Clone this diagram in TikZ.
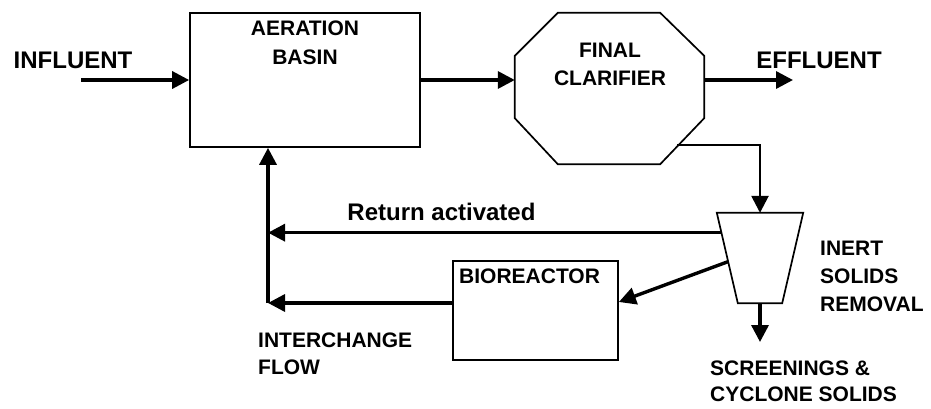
\documentclass[tikz,border=0pt]{standalone}
\usepackage{fontspec}
\setmainfont{Liberation Sans}
\usetikzlibrary{arrows.meta,calc}

\begin{document}
\begin{tikzpicture}[x=1pt,y=-1pt,
    flow/.style={line width=3.4pt,-{Triangle[length=17pt,width=17pt]}},
    unit/.style={draw,line width=1.7pt,inner sep=0pt},
    lbl/.style={font=\bfseries\fontsize{24}{28}\selectfont,inner sep=0pt},
    tag/.style={font=\bfseries\fontsize{21}{28}\selectfont,inner sep=0pt,align=left,anchor=west}]
    \useasboundingbox (0,0) rectangle (931,409);
    % process units
    \node[unit,minimum width=230pt,minimum height=134pt] (basin) at (305,80) {};
    \node[minimum width=189pt,minimum height=151pt,inner sep=0pt] (clar) at (609.5,88.5) {};
    \draw[line width=1.7pt] ([xshift=43pt]clar.north west) -- ([xshift=-44pt]clar.north east)
        -- ([yshift=-43pt]clar.north east) -- ([yshift=46pt]clar.south east)
        -- ([xshift=-44pt]clar.south east) -- ([xshift=43pt]clar.south west)
        -- ([yshift=46pt]clar.south west) -- ([yshift=-43pt]clar.north west) -- cycle;
    \node[minimum width=86pt,minimum height=90pt,inner sep=0pt] (sep) at (760,258) {};
    \draw[line width=1.7pt] (sep.north west) -- (sep.north east)
        -- ([xshift=-21pt]sep.south east) -- ([xshift=21pt]sep.south west) -- cycle;
    \node[unit,minimum width=165pt,minimum height=99pt] (bio) at (535.5,310.5) {};
    % labels
    \node[tag,anchor=center,align=center,font=\bfseries\fontsize{21}{29}\selectfont] (basinlbl) at (305,42.5) {AERATION\\BASIN};
    \node[tag,anchor=center,align=center] (clarlbl) at (610,64) {FINAL\\CLARIFIER};
    \node[tag] (biolbl) at (459,276) {BIOREACTOR};
    \node[lbl] (inlbl) at (73,60) {INFLUENT};
    \node[lbl] (efflbl) at (819,60) {EFFLUENT};
    \node[lbl] (retlbl) at (441.5,212) {Return activated};
    \node[tag] (seplbl) at (820,276.5) {INERT\\SOLIDS\\REMOVAL};
    \node[tag,font=\bfseries\fontsize{21}{25.7}\selectfont] (scrlbl) at (710,381) {SCREENINGS \&\\CYCLONE SOLIDS};
    \node[tag,font=\bfseries\fontsize{21}{27.5}\selectfont] (intlbl) at (258,354) {INTERCHANGE\\FLOW};
    % flows
    \coordinate (infl) at (81,80);
    \coordinate (eff) at (793,80);
    \coordinate (junc) at (268,303);
    \coordinate (screen) at (760,342);
    \coordinate (ret) at ($(sep.north west)!0.22!([xshift=21pt]sep.south west)$);
    \coordinate (tobio) at ($(sep.north west)!0.54!([xshift=21pt]sep.south west)$);
    \draw[flow] (infl) -- (basin.west);
    \draw[flow] (basin.east) -- (basin.east -| clar.west);
    \draw[flow] (basin.east -| clar.east) -- (eff);
    \draw[flow,line width=2.6pt] ([shift={(-27pt,-56.5pt)}]clar.east) -| (sep.north);
    \draw[flow] (ret) -- (ret -| junc);
    \draw[flow] (tobio) -- ([yshift=8.5pt]bio.east);
    \draw[flow] ([yshift=7.5pt]bio.west) -- (junc);
    \draw[flow] (junc) -- (junc |- basin.south);
    \draw[flow] (sep.south) -- (screen);
\end{tikzpicture}
\end{document}
